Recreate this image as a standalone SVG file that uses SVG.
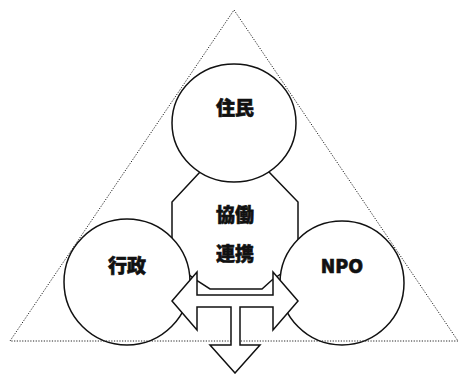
<svg xmlns="http://www.w3.org/2000/svg" width="459" height="374" viewBox="0 0 459 374">
<style>
.shape{fill:#fff;stroke:#111;stroke-width:1.5}
.tri{fill:none;stroke:#222;stroke-width:1;stroke-dasharray:1.2 1.5}
.lbl{font-family:"Noto Sans CJK JP","Noto Sans",sans-serif;font-weight:900;font-size:19px;fill:#111;stroke:#111;stroke-width:0.6;text-anchor:middle;dominant-baseline:central}
</style>
<rect width="459" height="374" fill="#fff"/>
<g id="collab">
<polygon class="shape" points="200,172 269,172 298,202 298,262 272,280 262,289 210,289 196,280 172,262 172,202"/>
</g>
<g id="jumin"><ellipse class="shape" cx="234" cy="123" rx="62" ry="59"/></g>
<g id="gyosei"><circle class="shape" cx="127" cy="282" r="63"/></g>
<g id="npo"><circle class="shape" cx="342" cy="283" r="62"/></g>
<g id="frame"><polygon class="tri" points="234,10 458,341 10,341"/></g>
<g id="connectors">
<polygon class="shape" points="172,301 197,272 197,295 273,295 273,272 298,301 273,330 273,307 240,307 240,345 260,345 235,373 210,345 231,345 231,307 197,307 197,330"/>
</g>
<g id="labels">
<text class="lbl" x="235" y="106">住民</text>
<text class="lbl" x="235" y="213">協働</text>
<text class="lbl" x="235" y="252">連携</text>
<text class="lbl" x="127" y="264">行政</text>
<text class="lbl" x="342" y="264">NPO</text>
</g>
</svg>
